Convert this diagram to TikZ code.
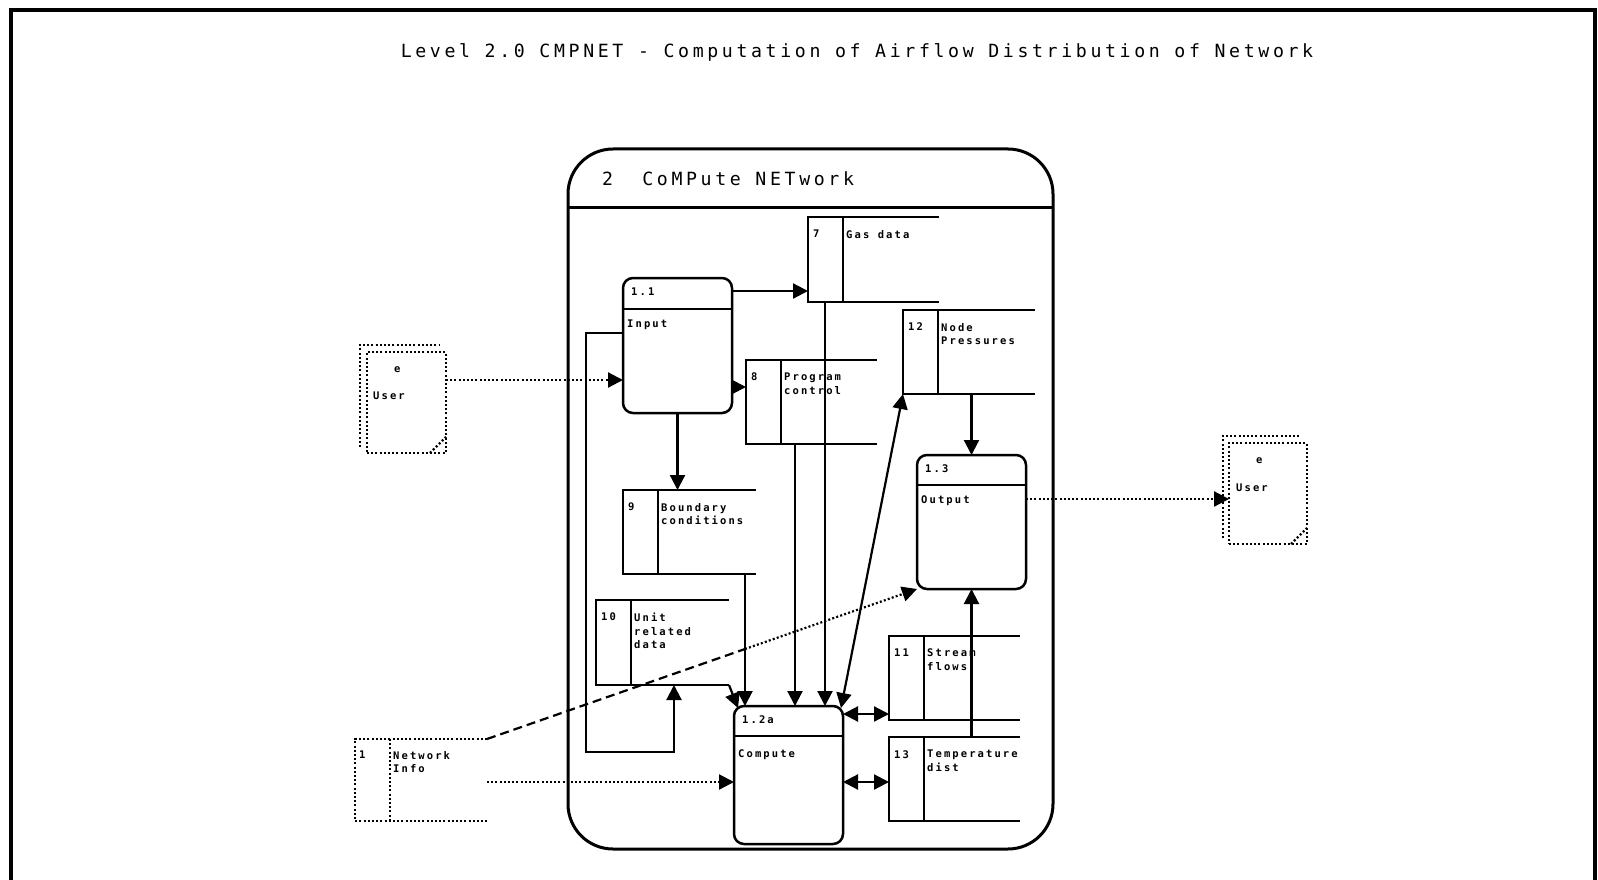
\documentclass[tikz,border=0pt]{standalone}
\usepackage{fontspec}
\usetikzlibrary{arrows.meta,calc}
\newfontfamily\ttlfont[LetterSpace=20]{DejaVu Sans Mono}
\newfontfamily\lblfont[LetterSpace=20]{DejaVu Sans Mono}
\tikzset{
 proc/.style={draw, line width=2.5pt, rounded corners=10pt, inner sep=0pt, outer sep=0pt, anchor=north west},
 storeline/.style={line width=2.5pt},
 conn/.style={line width=2.2pt},
 arr/.style={conn, -{Triangle[length=15pt,width=15pt]}},
 arrb/.style={conn, {Triangle[length=15pt,width=15pt]}-{Triangle[length=15pt,width=15pt]}},
 dotl/.style={line width=2.2pt, dash pattern=on 2pt off 2.2pt},
 darr/.style={dotl, -{Triangle[length=15pt,width=15pt]}},
 lbl/.style={font=\fontsize{10.5}{13.3}\selectfont\lblfont\bfseries, inner sep=0pt, anchor=north west, align=left},
 ttl/.style={font=\fontsize{18.2}{20}\selectfont\ttlfont, inner sep=0pt},
}
\newcommand\dstore[7]{%
 \node[inner sep=0pt, outer sep=0pt, minimum width=#6, minimum height=#7, anchor=north west] (#1) at (#2,#3) {};
 \draw[storeline] (#1.north east) -- (#1.north west) -- (#1.south west) -- (#1.south east);
 \draw[storeline] ([xshift=35pt]#1.north west) -- ([xshift=35pt]#1.south west);
 \node[lbl] at ([xshift=5pt,yshift=-13pt]#1.north west) {#4};
 \node[lbl] at ([xshift=38pt,yshift=-13pt]#1.north west) {#5};
}
\begin{document}
\begin{tikzpicture}[x=1pt,y=-1pt]
\fill[white] (0,0) rectangle (1598,880);
\useasboundingbox (0,0) rectangle (1598,880);
% outer frame
\draw[line width=4pt] (11,880) -- (11,10) -- (1595,10) -- (1595,880);
% title
\node[ttl, anchor=base] (title) at (857,58) {Level 2.0 CMPNET - Computation of Airflow Distribution of Network};
% main process box
\node[draw, line width=3pt, rounded corners=45pt, inner sep=0pt, outer sep=0pt, minimum width=485, minimum height=700, anchor=north west] (cmpnet) at (568,149) {};
\draw[line width=3pt] ([yshift=-58pt]cmpnet.north west) -- ([yshift=-58pt]cmpnet.north east);
\node[ttl, anchor=base west] (cmpnettitle) at ([xshift=34pt,yshift=-36pt]cmpnet.north west) {2\ \ CoMPute NETwork};
% processes
\node[proc, minimum width=109, minimum height=135] (inp) at (623,278) {};
\draw[storeline] ([yshift=-31pt]inp.north west) -- ([yshift=-31pt]inp.north east);
\node[lbl] at ([xshift=8pt,yshift=-10pt]inp.north west) {1.1};
\node[lbl] at ([xshift=4pt,yshift=-42pt]inp.north west) {Input};
\node[proc, minimum width=109, minimum height=134] (out) at (917,455) {};
\draw[storeline] ([yshift=-30pt]out.north west) -- ([yshift=-30pt]out.north east);
\node[lbl] at ([xshift=8pt,yshift=-10pt]out.north west) {1.3};
\node[lbl] at ([xshift=4pt,yshift=-41pt]out.north west) {Output};
\node[proc, minimum width=109, minimum height=138] (cmp) at (734,706) {};
\draw[storeline] ([yshift=-30pt]cmp.north west) -- ([yshift=-30pt]cmp.north east);
\node[lbl] at ([xshift=8pt,yshift=-10pt]cmp.north west) {1.2a};
\node[lbl] at ([xshift=4pt,yshift=-43pt]cmp.north west) {Compute};
% data stores
\dstore{gas}{808}{217}{7}{Gas data}{131}{85}
\dstore{npr}{903}{310}{12}{Node\\Pressures}{132}{84}
\dstore{prog}{746}{360}{8}{Program\\control}{131}{84}
\dstore{bnd}{623}{490}{9}{Boundary\\conditions}{133}{84}
\dstore{unit}{596}{600}{10}{Unit\\related\\data}{133}{85}
\dstore{str}{889}{636}{11}{Stream\\flows}{131}{84}
\dstore{tmp}{889}{737}{13}{Temperature\\dist}{131}{84}
% external entities
\node[draw, dotl, inner sep=0pt, outer sep=0pt, minimum width=79, minimum height=101, anchor=north west] (usr1) at (367,352) {};
\draw[dotl] ($(usr1.south west)+(-7,-6)$) -- ($(usr1.north west)+(-7,-7)$) -- ($(usr1.north east)+(-6,-7)$);
\draw[dotl] ($(usr1.south east)+(-16,0)$) -- ($(usr1.south east)+(0,-16)$);
\node[lbl] at ($(usr1.north west)+(27,14)$) {e};
\node[lbl] at ($(usr1.north west)+(6,40)$) {User};
\node[draw, dotl, inner sep=0pt, outer sep=0pt, minimum width=78, minimum height=101, anchor=north west] (usr2) at (1229,443) {};
\draw[dotl] ($(usr2.south west)+(-6,-6)$) -- ($(usr2.north west)+(-6,-7)$) -- ($(usr2.north east)+(-8,-7)$);
\draw[dotl] ($(usr2.south east)+(-16,0)$) -- ($(usr2.south east)+(0,-16)$);
\node[lbl] at ($(usr2.north west)+(27,14)$) {e};
\node[lbl] at ($(usr2.north west)+(7,41)$) {User};
% network info (external store)
\node[inner sep=0pt, outer sep=0pt, minimum width=132, minimum height=82, anchor=north west] (net) at (355,739) {};
\draw[dotl] (net.north east) -- (net.north west) -- (net.south west) -- (net.south east);
\draw[dotl] ([xshift=35pt]net.north west) -- ([xshift=35pt]net.south west);
\node[lbl] at ([xshift=4pt,yshift=-12pt]net.north west) {1};
\node[lbl] at ([xshift=38pt,yshift=-12pt]net.north west) {Network\\Info};
% connectors
\coordinate (p1) at ([yshift=-13pt]inp.north east);
\draw[arr] (p1) -- (p1 -| gas.west);
\coordinate (p2) at ([yshift=26pt]inp.south east);
\draw[arr] (p2) -- (p2 -| prog.west);
\draw[arr] (inp.south) -- (inp.south |- bnd.north);
\coordinate (p3) at ([yshift=-55pt]inp.north west);
\coordinate (p4) at ([xshift=78pt]unit.south west);
\draw[arr] (p3) -- ++(-37,0) |- ([yshift=-67pt]p4) -- (p4);
\coordinate (p5) at ([xshift=122pt]bnd.south west);
\draw[arr] (p5) -- (p5 |- cmp.north);
\draw[arr] (unit.south east) -- ([xshift=4pt,yshift=-2pt]cmp.north west);
\coordinate (p6) at ([xshift=49pt]prog.south west);
\draw[arr] (p6) -- (p6 |- cmp.north);
\coordinate (p7) at ([xshift=17pt]gas.south west);
\draw[arr] (p7) -- (p7 |- cmp.north);
\draw[arrb] ([xshift=-2pt,yshift=-2pt]cmp.north east) -- (npr.south west);
\coordinate (p8) at ([yshift=-8pt]cmp.north east);
\draw[arrb] (p8) -- (p8 -| str.west);
\coordinate (p9) at ([yshift=-76pt]cmp.north east);
\draw[arrb] (p9) -- (p9 -| tmp.west);
\draw[arr] (npr.south -| out.north) -- (out.north);
\draw[arr] (tmp.north -| out.south) -- (out.south);
\coordinate (p10) at ([yshift=-102pt]inp.north west);
\draw[darr] (p10 -| usr1.east) -- (p10);
\coordinate (p11) at ([yshift=-44pt]out.north east);
\draw[darr] (p11) -- (p11 -| usr2.west);
\coordinate (p12) at ([yshift=-43pt]net.north east);
\draw[darr] (p12) -- (p12 -| cmp.west);
\coordinate (p13) at ($(net.north east)!0.6!(out.south west)$);
\draw[conn, dash pattern=on 9pt off 5pt] (net.north east) -- (p13);
\draw[darr] (p13) -- (out.south west);
\end{tikzpicture}
\end{document}
